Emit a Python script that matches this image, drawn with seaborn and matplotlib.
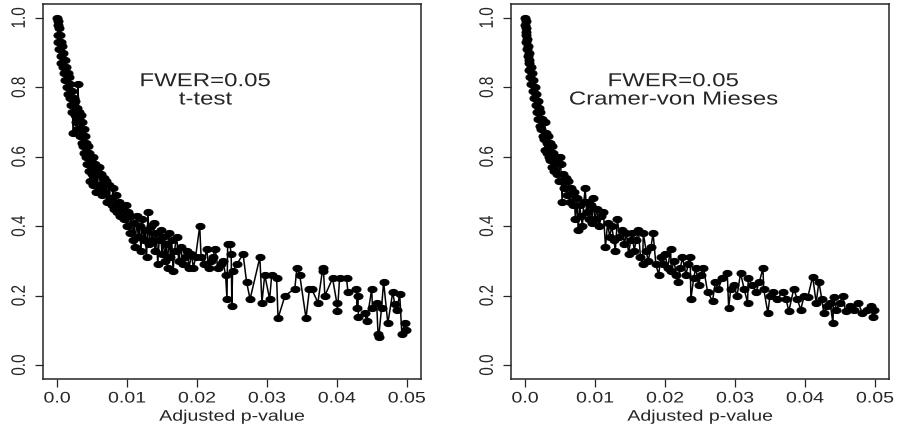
import numpy as np
import pandas as pd
import seaborn as sns
import matplotlib.pyplot as plt
from matplotlib.path import Path
from matplotlib.transforms import Affine2D
import matplotlib.patheffects as pe

# adjusted p-value (x) and proportion (y) for each test
ttest_p = [
    0.0000, 0.0001, 0.0001, 0.0002, 0.0002, 0.0003, 0.0003, 0.0004, 0.0005, 0.0005,
    0.0006, 0.0007, 0.0008, 0.0009, 0.0010, 0.0011, 0.0012, 0.0013, 0.0014, 0.0015,
    0.0016, 0.0017, 0.0018, 0.0019, 0.0020, 0.0021, 0.0022, 0.0023, 0.0024, 0.0025,
    0.0026, 0.0027, 0.0028, 0.0029, 0.0030, 0.0031, 0.0032, 0.0033, 0.0034, 0.0035,
    0.0036, 0.0037, 0.0038, 0.0039, 0.0040, 0.0041, 0.0042, 0.0043, 0.0044, 0.0045,
    0.0046, 0.0047, 0.0048, 0.0050, 0.0051, 0.0052, 0.0054, 0.0055, 0.0057, 0.0058,
    0.0060, 0.0062, 0.0063, 0.0065, 0.0067, 0.0068, 0.0070, 0.0072, 0.0074, 0.0076,
    0.0078, 0.0080, 0.0082, 0.0084, 0.0086, 0.0088, 0.0090, 0.0092, 0.0094, 0.0096,
    0.0098, 0.0100, 0.0102, 0.0104, 0.0106, 0.0108, 0.0110, 0.0112, 0.0114, 0.0116,
    0.0118, 0.0120, 0.0122, 0.0124, 0.0126, 0.0128, 0.0130, 0.0132, 0.0134, 0.0136,
    0.0138, 0.0140, 0.0142, 0.0144, 0.0146, 0.0148, 0.0150, 0.0152, 0.0154, 0.0156,
    0.0158, 0.0160, 0.0162, 0.0164, 0.0166, 0.0168, 0.0171, 0.0174, 0.0177, 0.0180,
    0.0183, 0.0186, 0.0189, 0.0192, 0.0195, 0.0198, 0.0204, 0.0206, 0.0210, 0.0214,
    0.0217, 0.0220, 0.0223, 0.0226, 0.0230, 0.0234, 0.0237, 0.0241, 0.0243, 0.0244,
    0.0247, 0.0249, 0.0250, 0.0251, 0.0257, 0.0266, 0.0271, 0.0276, 0.0290, 0.0293,
    0.0297, 0.0304, 0.0307, 0.0314, 0.0316, 0.0326, 0.0340, 0.0343, 0.0347, 0.0356,
    0.0361, 0.0364, 0.0373, 0.0380, 0.0381, 0.0383, 0.0394, 0.0400, 0.0401, 0.0404,
    0.0414, 0.0416, 0.0428, 0.0429, 0.0430, 0.0431, 0.0440, 0.0443, 0.0450, 0.0451,
    0.0457, 0.0459, 0.0460, 0.0464, 0.0467, 0.0473, 0.0480, 0.0483, 0.0486, 0.0490,
    0.0493, 0.0497, 0.0499,
]
ttest_y = [
    1.00, 0.98, 0.95, 0.99, 0.93, 0.97, 0.91, 0.95, 0.89, 0.93,
    0.87, 0.92, 0.86, 0.90, 0.84, 0.88, 0.82, 0.86, 0.80, 0.84,
    0.78, 0.83, 0.77, 0.81, 0.75, 0.79, 0.73, 0.67, 0.77, 0.72,
    0.76, 0.70, 0.74, 0.68, 0.81, 0.73, 0.71, 0.66, 0.72, 0.64,
    0.70, 0.63, 0.68, 0.61, 0.66, 0.60, 0.64, 0.58, 0.63, 0.56,
    0.61, 0.53, 0.59, 0.55, 0.60, 0.52, 0.58, 0.50, 0.56, 0.52,
    0.57, 0.51, 0.55, 0.49, 0.54, 0.50, 0.53, 0.47, 0.52, 0.48,
    0.46, 0.51, 0.45, 0.49, 0.44, 0.47, 0.43, 0.46, 0.45, 0.42,
    0.46, 0.40, 0.44, 0.38, 0.43, 0.36, 0.41, 0.34, 0.43, 0.37,
    0.40, 0.33, 0.42, 0.36, 0.39, 0.31, 0.44, 0.35, 0.40, 0.36,
    0.41, 0.33, 0.38, 0.29, 0.36, 0.39, 0.32, 0.37, 0.30, 0.35,
    0.28, 0.38, 0.31, 0.36, 0.27, 0.33, 0.37, 0.30, 0.34, 0.29,
    0.31, 0.33, 0.28, 0.32, 0.28, 0.31, 0.40, 0.31, 0.29, 0.335,
    0.28, 0.30, 0.31, 0.335, 0.28, 0.29, 0.30, 0.26, 0.19, 0.35,
    0.35, 0.32, 0.17, 0.27, 0.29, 0.32, 0.24, 0.19, 0.31, 0.18,
    0.26, 0.19, 0.26, 0.25, 0.135, 0.20, 0.22, 0.28, 0.26, 0.135,
    0.22, 0.22, 0.18, 0.28, 0.27, 0.20, 0.25, 0.18, 0.155, 0.25,
    0.25, 0.21, 0.22, 0.165, 0.20, 0.14, 0.15, 0.127, 0.22, 0.165,
    0.18, 0.09, 0.08, 0.165, 0.24, 0.12, 0.21, 0.175, 0.16, 0.205,
    0.09, 0.12, 0.10,
]

cvm_p = [
    0.0000, 0.0000, 0.0001, 0.0001, 0.0001, 0.0002, 0.0002, 0.0003, 0.0003, 0.0004,
    0.0004, 0.0005, 0.0005, 0.0006, 0.0006, 0.0007, 0.0008, 0.0009, 0.0010, 0.0011,
    0.0012, 0.0013, 0.0014, 0.0015, 0.0016, 0.0017, 0.0018, 0.0019, 0.0020, 0.0021,
    0.0022, 0.0023, 0.0024, 0.0025, 0.0026, 0.0027, 0.0028, 0.0029, 0.0030, 0.0031,
    0.0032, 0.0033, 0.0034, 0.0035, 0.0036, 0.0038, 0.0039, 0.0040, 0.0042, 0.0043,
    0.0045, 0.0046, 0.0048, 0.0050, 0.0051, 0.0053, 0.0054, 0.0056, 0.0058, 0.0060,
    0.0062, 0.0064, 0.0066, 0.0068, 0.0070, 0.0072, 0.0074, 0.0076, 0.0078, 0.0080,
    0.0082, 0.0084, 0.0086, 0.0088, 0.0090, 0.0092, 0.0094, 0.0096, 0.0097, 0.0100,
    0.0103, 0.0106, 0.0109, 0.0112, 0.0115, 0.0118, 0.0121, 0.0124, 0.0127, 0.0129,
    0.0132, 0.0135, 0.0139, 0.0142, 0.0145, 0.0148, 0.0151, 0.0153, 0.0156, 0.0159,
    0.0162, 0.0165, 0.0168, 0.0169, 0.0173, 0.0176, 0.0180, 0.0183, 0.0187, 0.0191,
    0.0194, 0.0197, 0.0200, 0.0204, 0.0208, 0.0209, 0.0213, 0.0216, 0.0219, 0.0222,
    0.0225, 0.0230, 0.0233, 0.0236, 0.0237, 0.0241, 0.0244, 0.0248, 0.0251, 0.0255,
    0.0261, 0.0268, 0.0272, 0.0276, 0.0282, 0.0289, 0.0291, 0.0294, 0.0298, 0.0303,
    0.0308, 0.0313, 0.0318, 0.0319, 0.0325, 0.0330, 0.0335, 0.0340, 0.0341, 0.0347,
    0.0350, 0.0355, 0.0360, 0.0368, 0.0373, 0.0377, 0.0384, 0.0389, 0.0394, 0.0399,
    0.0404, 0.0411, 0.0416, 0.0420, 0.0424, 0.0427, 0.0431, 0.0436, 0.0440, 0.0441,
    0.0445, 0.0450, 0.0454, 0.0458, 0.0464, 0.0470, 0.0476, 0.0482, 0.0488, 0.0494,
    0.0497, 0.0499,
]
cvm_y = [
    1.00, 0.98, 0.99, 0.95, 0.97, 0.93, 0.96, 0.91, 0.94, 0.89,
    0.92, 0.87, 0.90, 0.85, 0.88, 0.83, 0.86, 0.81, 0.84, 0.79,
    0.82, 0.77, 0.80, 0.75, 0.78, 0.73, 0.76, 0.71, 0.74, 0.69,
    0.73, 0.68, 0.71, 0.66, 0.70, 0.65, 0.70, 0.62, 0.67, 0.64,
    0.61, 0.66, 0.60, 0.64, 0.59, 0.63, 0.57, 0.61, 0.56, 0.60,
    0.55, 0.59, 0.53, 0.60, 0.58, 0.47, 0.55, 0.51, 0.54, 0.49,
    0.53, 0.47, 0.51, 0.46, 0.50, 0.42, 0.48, 0.39, 0.46, 0.43,
    0.40, 0.47, 0.51, 0.44, 0.47, 0.42, 0.46, 0.41, 0.48, 0.42,
    0.45, 0.40, 0.43, 0.44, 0.34, 0.41, 0.37, 0.40, 0.36, 0.33,
    0.42, 0.37, 0.39, 0.35, 0.38, 0.32, 0.36, 0.38, 0.33, 0.36,
    0.39, 0.31, 0.29, 0.38, 0.33, 0.30, 0.34, 0.38, 0.29, 0.26,
    0.31, 0.29, 0.32, 0.28, 0.335, 0.27, 0.30, 0.26, 0.24, 0.28,
    0.31, 0.26, 0.29, 0.31, 0.19, 0.25, 0.28, 0.23, 0.26, 0.28,
    0.21, 0.185, 0.24, 0.22, 0.25, 0.265, 0.165, 0.22, 0.23, 0.20,
    0.265, 0.22, 0.18, 0.25, 0.23, 0.21, 0.24, 0.28, 0.22, 0.15,
    0.20, 0.21, 0.19, 0.21, 0.19, 0.155, 0.22, 0.19, 0.16, 0.20,
    0.195, 0.255, 0.18, 0.24, 0.19, 0.15, 0.17, 0.18, 0.12, 0.195,
    0.16, 0.18, 0.20, 0.155, 0.17, 0.16, 0.18, 0.15, 0.16, 0.17,
    0.14, 0.16,
]

panels = [
    (ttest_p, ttest_y, "FWER=0.05\nt-test"),
    (cvm_p, cvm_y, "FWER=0.05\nCramer-von Mieses"),
]


class WideText(pe.AbstractPathEffect):
    """draw text a bit wider than normal (the original was stretched sideways)"""
    def __init__(self, sx=1.28):
        super().__init__()
        self.sx = sx

    def draw_path(self, renderer, gc, tpath, affine, rgbFace=None):
        ext = tpath.get_extents(affine)
        cx = (ext.x0 + ext.x1) / 2
        t = affine + Affine2D().translate(-cx, 0).scale(self.sx, 1).translate(cx, 0)
        renderer.draw_path(gc, tpath, t, rgbFace)


wide = [WideText(1.28)]

sns.set_style("ticks")
plt.rcParams['font.family'] = ['Liberation Sans', 'DejaVu Sans']

# slightly flattened dot, like the stretched original
circ = Path.unit_circle()
dot = Path(circ.vertices * np.array([1.0, 0.68]), circ.codes)

fig = plt.figure(figsize=(8.97, 4.30), dpi=100)
boxes = [[0.048, 0.1186, 0.421, 0.872], [0.5697, 0.1186, 0.4213, 0.872]]

for (px, py, label), box in zip(panels, boxes):
    ax = fig.add_axes(box)
    df = pd.DataFrame({"p": px, "y": py})
    sns.lineplot(data=df, x="p", y="y", ax=ax, sort=False, estimator=None,
                 color="black", linewidth=1.1, marker=dot, markersize=6.5,
                 markeredgecolor="black", markerfacecolor="black")
    ax.set_xlim(-0.002, 0.052)
    ax.set_ylim(-0.04, 1.04)
    ax.set_xticks([0.0, 0.01, 0.02, 0.03, 0.04, 0.05])
    ax.set_xticklabels(["0.0", "0.01", "0.02", "0.03", "0.04", "0.05"])
    ax.set_yticks([0.0, 0.2, 0.4, 0.6, 0.8, 1.0])
    ax.set_yticklabels(["0.0", "0.2", "0.4", "0.6", "0.8", "1.0"],
                       rotation=90, va="center")
    ax.tick_params(length=6, width=0.9, labelsize=11, pad=3)
    ax.tick_params(axis="y", pad=6)
    for t in ax.get_xticklabels() + ax.get_yticklabels():
        t.set_path_effects(wide)
    ax.set_xlabel("Adjusted p-value", fontsize=11, labelpad=3)
    ax.xaxis.label.set_path_effects(wide)
    ax.set_ylabel("")
    for s in ax.spines.values():
        s.set_visible(True)
        s.set_linewidth(1.1)
    ax.text(0.0212, 0.79, label, ha="center", va="center", fontsize=13.5,
            linespacing=1.1, path_effects=wide)

fig.savefig("out.png", dpi=100)
